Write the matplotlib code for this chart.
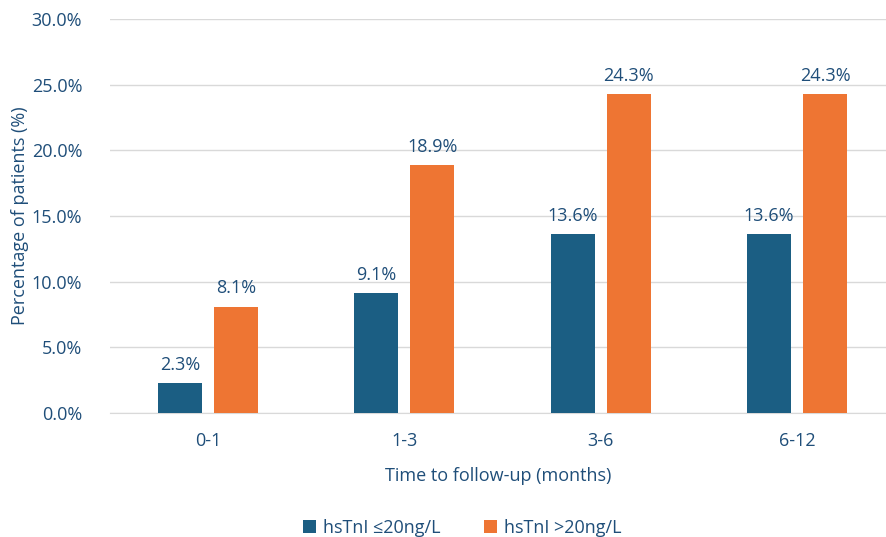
import matplotlib.pyplot as plt
import numpy as np
import matplotlib.ticker as mtick

plt.rcParams['font.family'] = ['Open Sans', 'DejaVu Sans']

categories = ['0-1', '1-3', '3-6', '6-12']
low_vals = [2.3, 9.1, 13.6, 13.6]
high_vals = [8.1, 18.9, 24.3, 24.3]
series_names = ['hsTnI \u226420ng/L', 'hsTnI >20ng/L']

blue = '#1B5E83'
orange = '#EE7533'
text_col = '#1F4E79'

fig = plt.figure(figsize=(8.86, 5.37), dpi=100)
ax = fig.add_axes([110 / 886, 1 - 413 / 537, 1 - 110 / 886, (413 - 19) / 537])

x = np.arange(len(categories))
w = 0.224
off = 0.143
b1 = ax.bar(x - off, low_vals, w, color=blue, label=series_names[0], zorder=3)
b2 = ax.bar(x + off, high_vals, w, color=orange, label=series_names[1], zorder=3)

for bars, vals in [(b1, low_vals), (b2, high_vals)]:
    for r, v in zip(bars, vals):
        ax.text(r.get_x() + r.get_width() / 2, v + 0.7, f'{v:.1f}%', ha='center', va='bottom',
                fontsize=13, color=text_col)

ax.set_ylim(0, 30)
ax.set_xlim(-0.5, 3.454)
ax.set_yticks(np.arange(0, 31, 5))
ax.yaxis.set_major_formatter(mtick.FuncFormatter(lambda v, p: f'{v:.1f}%'))
ax.set_xticks(x)
ax.set_xticklabels(categories)
ax.tick_params(axis='both', length=0, labelsize=13, labelcolor=text_col)
ax.tick_params(axis='y', pad=20)
ax.tick_params(axis='x', pad=14)
ax.grid(axis='y', color='#D9D9D9', linewidth=1, zorder=0)
for s in ['top', 'right', 'left']:
    ax.spines[s].set_visible(False)
ax.spines['bottom'].set_color('#D9D9D9')

ax.set_xlabel('Time to follow-up (months)', fontsize=13, color=text_col, labelpad=12)
ax.set_ylabel('Percentage of patients (%)', fontsize=13, color=text_col)
ax.yaxis.set_label_coords(-81 / 776, 0.5)

fig.legend(handles=[b1, b2], loc='center', bbox_to_anchor=(0.522, 1 - 528 / 537), ncol=2,
           frameon=False, fontsize=13, labelcolor=text_col, handlelength=0.7, handleheight=0.7,
           columnspacing=2.4, handletextpad=0.4)

fig.savefig('out.png', dpi=100)
